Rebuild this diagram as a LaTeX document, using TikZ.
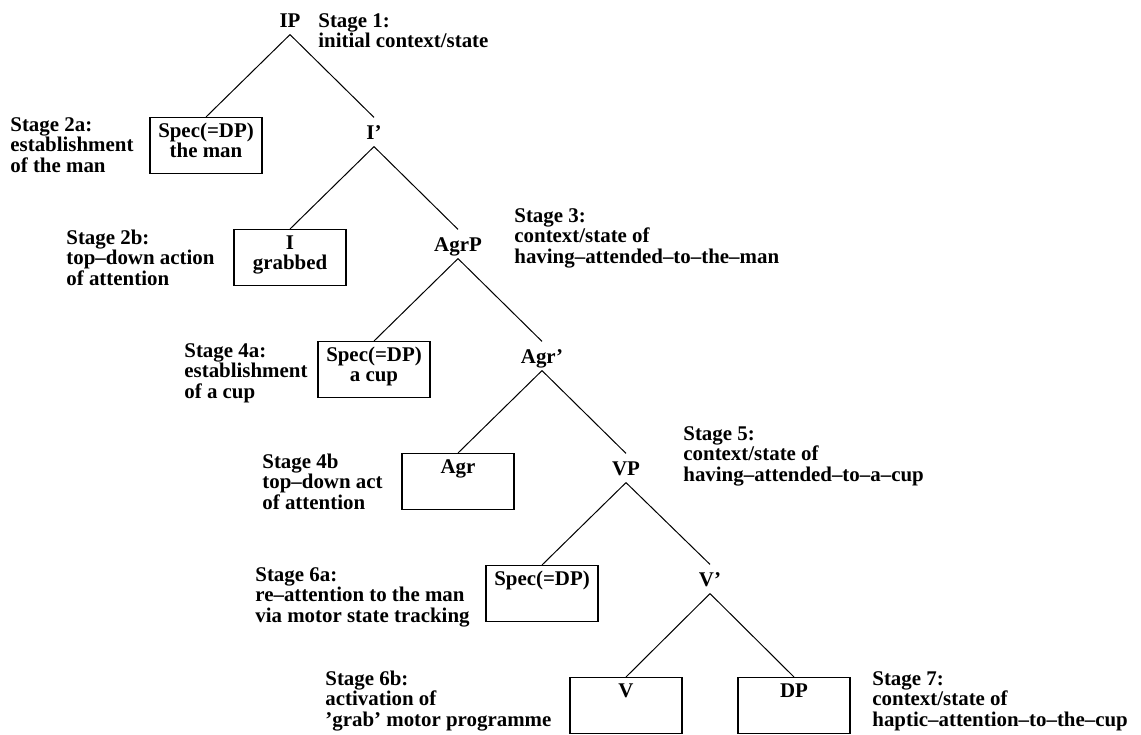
\documentclass[tikz,border=0pt]{standalone}
\usepackage{fontspec}
\setmainfont{Liberation Serif}
\usetikzlibrary{calc}
% stacked lines whose baseline is that of the first line
\newcommand\stackl[1]{\begin{tabular}[t]{@{}l@{}}#1\end{tabular}}
\newcommand\stackc[1]{\begin{tabular}[t]{@{}c@{}}#1\end{tabular}}
\begin{document}
\begin{tikzpicture}[x=0.5pt,y=-0.5pt,
  every node/.style={font=\bfseries\fontsize{10.45}{10.25}\selectfont, inner sep=0pt},
  cat/.style={anchor=base, text height=10.6pt, text depth=3.6pt},
  slot/.style={draw, line width=0.6pt, minimum width=56pt, minimum height=28pt, anchor=north},
  stage/.style={anchor=base west},
  slottext/.style={anchor=base},
  branch/.style={line width=0.5pt}]
\useasboundingbox (0,0) rectangle (1141,734);

% category labels along the right spine
\node[cat] (IP)     at (290,27)  {IP};
\node[cat] (Ibar)   at (374,139) {I'};
\node[cat] (AgrP)   at (458,251) {AgrP};
\node[cat] (Agrbar) at (542,363) {Agr'};
\node[cat] (VP)     at (626,475) {VP};
\node[cat] (Vbar)   at (710,586) {V'};

% boxed leaves
\node[slot] (specA)  at (206,117) {};
\node[slot] (Ibox)   at (290,229) {};
\node[slot] (specB)  at (374,341) {};
\node[slot] (Agrbox) at (458,453) {};
\node[slot] (specC)  at (542,565) {};
\node[slot] (Vbox)   at (626,677) {};
\node[slot] (DPbox)  at (794,677) {};

% leaf contents
\node[slottext] (specAt)  at ($(specA.north)+(0,20)$)  {\stackc{Spec(=DP)\\the man}};
\node[slottext] (Iboxt)   at ($(Ibox.north)+(0,20)$)   {\stackc{I\\grabbed}};
\node[slottext] (specBt)  at ($(specB.north)+(0,20)$)  {\stackc{Spec(=DP)\\a cup}};
\node[slottext] (Agrboxt) at ($(Agrbox.north)+(0,20)$) {Agr};
\node[slottext] (specCt)  at ($(specC.north)+(0,20)$)  {Spec(=DP)};
\node[slottext] (Vboxt)   at ($(Vbox.north)+(0,20)$)   {V};
\node[slottext] (DPboxt)  at ($(DPbox.north)+(0,20)$)  {DP};

% branches
\draw[branch] (IP.south) -- (specA.north);
\draw[branch] (IP.south) -- (Ibar.north);
\draw[branch] (Ibar.south) -- (Ibox.north);
\draw[branch] (Ibar.south) -- (AgrP.north);
\draw[branch] (AgrP.south) -- (specB.north);
\draw[branch] (AgrP.south) -- (Agrbar.north);
\draw[branch] (Agrbar.south) -- (Agrbox.north);
\draw[branch] (Agrbar.south) -- (VP.north);
\draw[branch] (VP.south) -- (specC.north);
\draw[branch] (VP.south) -- (Vbar.north);
\draw[branch] (Vbar.south) -- (Vbox.north);
\draw[branch] (Vbar.south) -- (DPbox.north);

% stage annotations
\node[stage] (s1)  at (318,27)  {\stackl{Stage 1:\\initial context/state}};
\node[stage] (s2a) at (10,131)  {\stackl{Stage 2a:\\establishment\\of the man}};
\node[stage] (s2b) at (66,244)  {\stackl{Stage 2b:\\top--down action\\of attention}};
\node[stage] (s3)  at (514,222) {\stackl{Stage 3:\\context/state of\\having--attended--to--the--man}};
\node[stage] (s4a) at (184,357) {\stackl{Stage 4a:\\establishment\\of a cup}};
\node[stage] (s4b) at (262,468) {\stackl{Stage 4b\\top--down act\\of attention}};
\node[stage] (s5)  at (683,440) {\stackl{Stage 5:\\context/state of\\having--attended--to--a--cup}};
\node[stage] (s6a) at (255,581) {\stackl{Stage 6a:\\re--attention to the man\\via motor state tracking}};
\node[stage] (s6b) at (325,685) {\stackl{Stage 6b:\\activation of\\'grab' motor programme}};
\node[stage] (s7)  at (872,685) {\stackl{Stage 7:\\context/state of\\haptic--attention--to--the--cup}};
\end{tikzpicture}
\end{document}
